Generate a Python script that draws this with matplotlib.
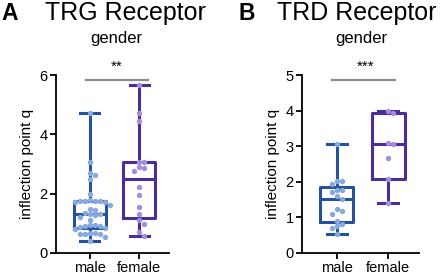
import numpy as np
import matplotlib.pyplot as plt

plt.rcParams['font.family'] = ['Liberation Sans', 'DejaVu Sans']

groups = ['male', 'female']

# TRG receptor, inflection point q
trg_male = [4.72, 3.07, 2.68, 2.62, 2.48, 1.98, 1.77, 1.76, 1.76, 1.75, 1.74, 1.73,
            1.72, 1.62, 1.50, 1.45, 1.35, 1.32, 1.30, 1.28, 1.20, 1.10, 0.95, 0.93,
            0.92, 0.90, 0.88, 0.85, 0.80, 0.68, 0.66, 0.65, 0.64, 0.63, 0.55, 0.42]
trg_female = [5.65, 4.72, 4.46, 3.08, 3.07, 2.90, 2.88, 2.78, 2.22, 1.95, 1.56,
              1.31, 1.12, 0.98, 0.72, 0.58]

# TRD receptor, inflection point q
trd_male = [3.07, 2.03, 2.03, 1.93, 1.78, 1.77, 1.72, 1.60, 1.52, 1.23, 1.17,
            1.10, 0.90, 0.82, 0.76, 0.70, 0.54]
trd_female = [3.99, 3.93, 3.08, 3.07, 2.66, 2.07, 1.40]

box_colors = ['#24539b', '#4b2c9a']
dot_colors = ['#86a9df', '#a68ddb']


def swarm_x(ax, vals, pos, dot_px=5.0):
    # simple beeswarm: put each dot in the nearest free column around the centre
    fig = ax.figure
    bb = ax.get_position()
    w_px = bb.width * fig.get_figwidth() * fig.dpi
    h_px = bb.height * fig.get_figheight() * fig.dpi
    x0, x1 = ax.get_xlim()
    y0, y1 = ax.get_ylim()
    sx = w_px / (x1 - x0)
    sy = h_px / (y1 - y0)
    placed = []
    xs = []
    for v in vals:
        yp = v * sy
        k = 0
        while True:
            for off in ([0] if k == 0 else [k * dot_px, -k * dot_px]):
                if all((off - px) ** 2 + (yp - py) ** 2 >= (dot_px * 0.95) ** 2 for px, py in placed):
                    break
            else:
                k += 1
                continue
            break
        placed.append((off, yp))
        xs.append(pos + off / sx)
    return xs


def panel(ax, data, ylim, yticks, star, bar_y, bar_x, star_y):
    ax.set_xlim(-0.68, 1.6)
    ax.set_ylim(*ylim)
    stats = []
    for vals in data:
        q1, med, q3 = np.percentile(vals, [25, 50, 75], method='weibull')
        stats.append(dict(med=med, q1=q1, q3=q3, whislo=min(vals), whishi=max(vals), fliers=[]))
    for i, st in enumerate(stats):
        c = box_colors[i]
        ax.bxp([st], positions=[i], widths=0.64, capwidths=0.38, showfliers=False,
               boxprops=dict(color=c, linewidth=2.2),
               whiskerprops=dict(color=c, linewidth=2.2),
               capprops=dict(color=c, linewidth=2.2),
               medianprops=dict(color=c, linewidth=2.2),
               manage_ticks=False, zorder=2)
        xs = swarm_x(ax, data[i], i)
        ax.scatter(xs, data[i], s=15, color=dot_colors[i], linewidths=0, zorder=3)

    ax.plot(bar_x, [bar_y, bar_y], color='#8c8c8c', lw=1.6, clip_on=False)
    ax.text(0.55, star_y, star, ha='center', va='center', fontsize=11, clip_on=False)

    ax.set_xticks([0, 1])
    ax.set_xticklabels(groups)
    ax.set_yticks(yticks)
    ax.set_ylabel('inflection point q', fontsize=11, labelpad=4)
    for s in ['top', 'right']:
        ax.spines[s].set_visible(False)
    for s in ['left', 'bottom']:
        ax.spines[s].set_linewidth(1.3)
    ax.tick_params(length=4, width=1.3, labelsize=10.5, pad=2)


fig = plt.figure(figsize=(4.4, 2.75), dpi=100)
ax1 = fig.add_axes([56 / 440, 22 / 275, 113 / 440, 178 / 275])
ax2 = fig.add_axes([302 / 440, 22 / 275, 117 / 440, 178 / 275])

panel(ax1, [trg_male, trg_female], (0, 6), [0, 2, 4, 6], '**', 5.83, [-0.08, 1.18], 6.27)
panel(ax2, [trd_male, trd_female], (0, 5), [0, 1, 2, 3, 4, 5], '***', 4.86, [-0.1, 1.14], 5.22)

fig.text(1 / 440, 1 - 2 / 275, 'A', fontsize=16.5, fontweight='bold', ha='left', va='top')
fig.text(125 / 440, 1 - 1 / 275, 'TRG Receptor', fontsize=18, ha='center', va='top')
fig.text(116 / 440, 1 - 38 / 275, 'gender', fontsize=12, ha='center', va='center')
fig.text(238 / 440, 1 - 2 / 275, 'B', fontsize=16.5, fontweight='bold', ha='left', va='top')
fig.text(357 / 440, 1 - 1 / 275, 'TRD Receptor', fontsize=18, ha='center', va='top')
fig.text(361 / 440, 1 - 38 / 275, 'gender', fontsize=12, ha='center', va='center')

fig.savefig('out.png', dpi=100)
